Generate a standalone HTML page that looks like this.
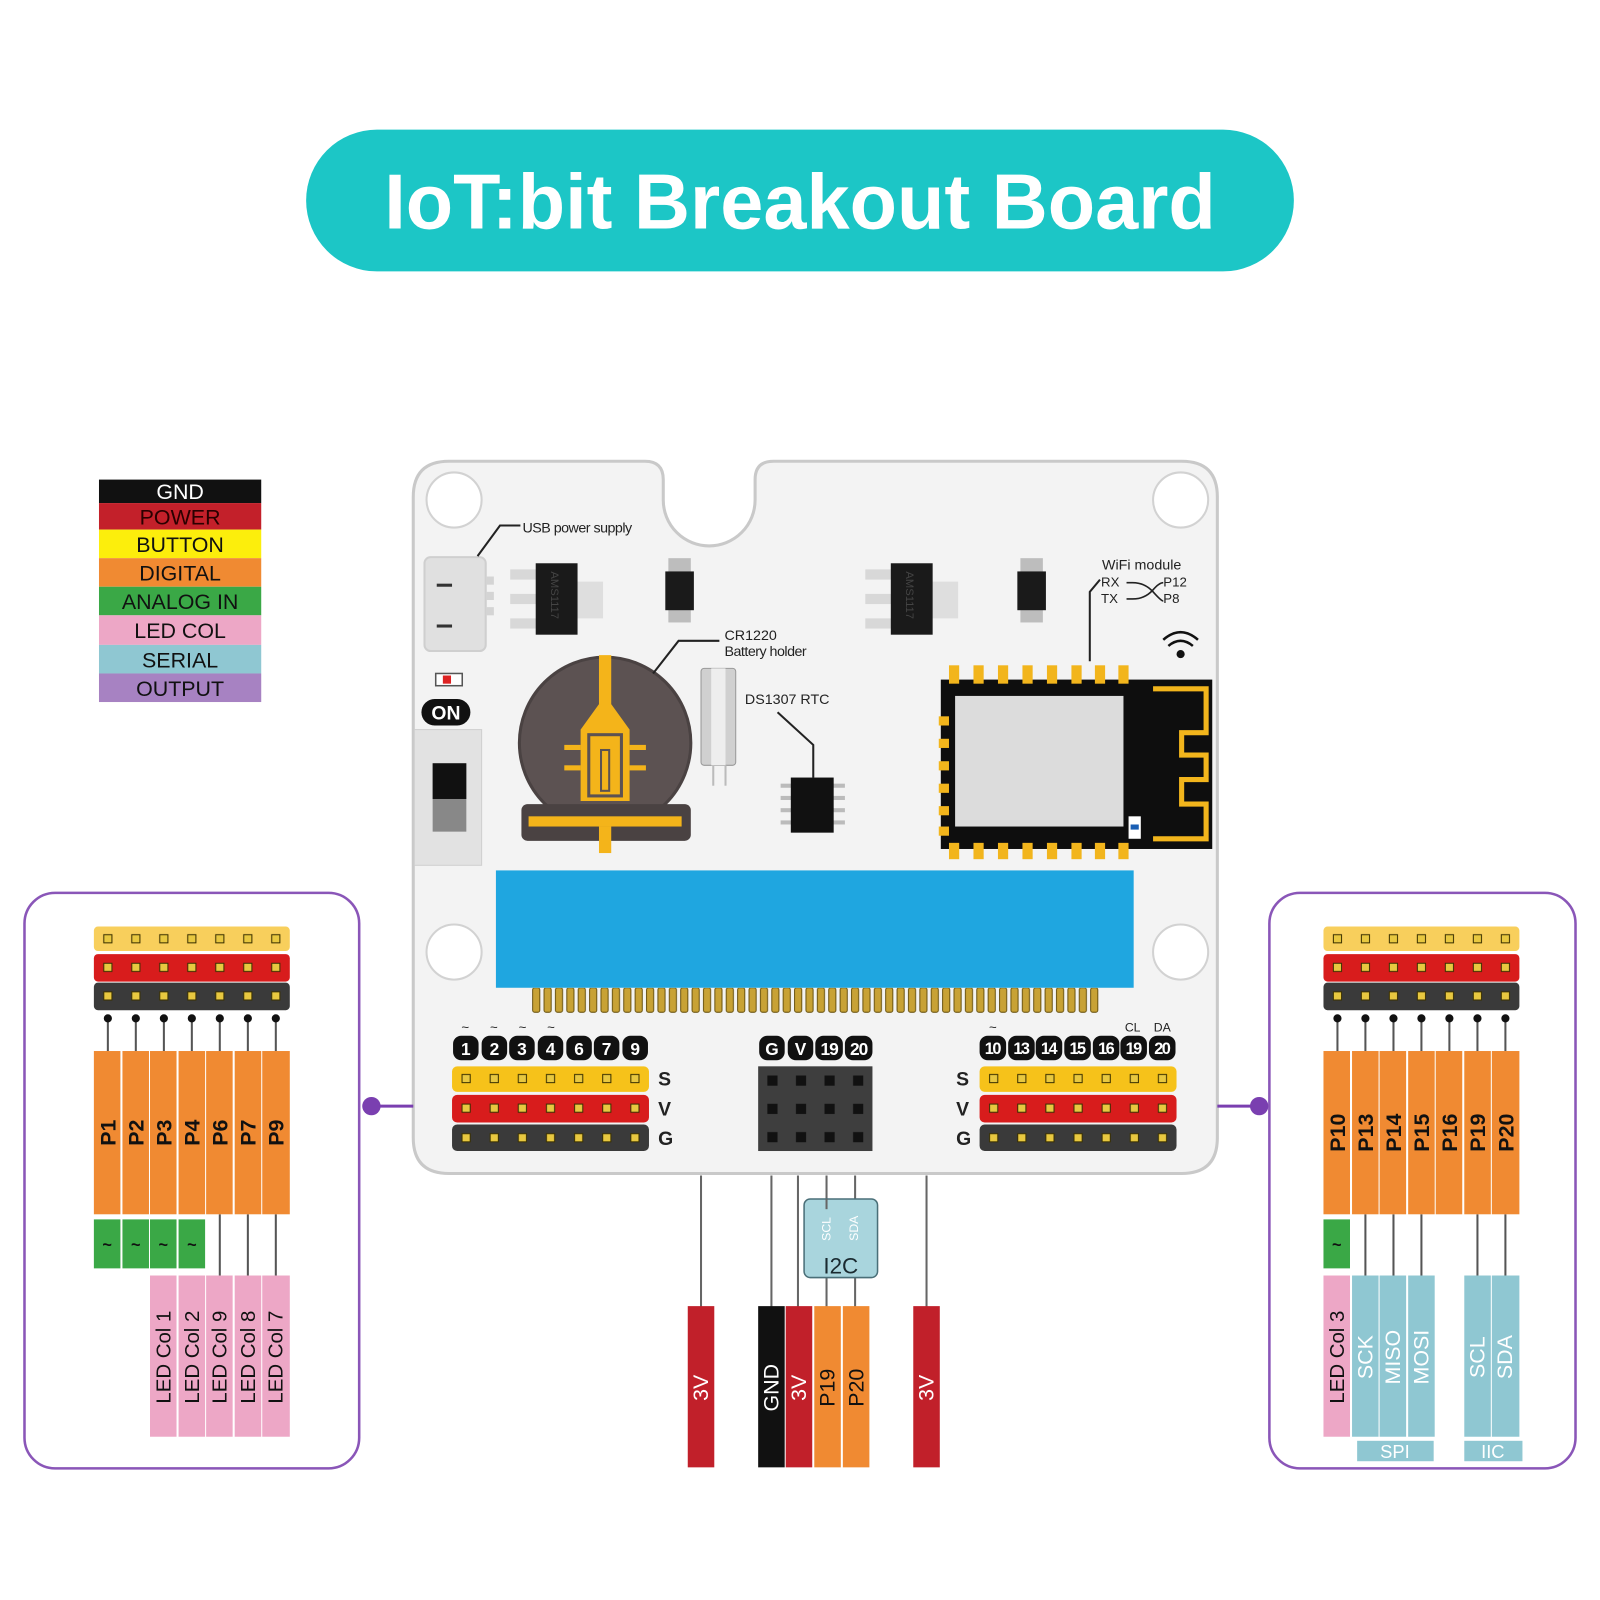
<!DOCTYPE html>
<html><head><meta charset="utf-8"><style>
html,body{margin:0;padding:0;background:#fff}
svg{display:block}
text{font-family:"Liberation Sans",Arial,sans-serif}
</style></head><body>
<svg width="1600" height="1600" viewBox="0 0 1568 1568" xmlns="http://www.w3.org/2000/svg">
<defs>
<pattern id="pbL" patternUnits="userSpaceOnUse" x="443" y="1042.5" width="27.57" height="29"><rect x="9.8" y="10.5" width="8" height="8" fill="#e8c840" stroke="#3a3000" stroke-width="1"/></pattern>
<pattern id="pbR" patternUnits="userSpaceOnUse" x="960" y="1042.5" width="27.57" height="29"><rect x="9.8" y="10.5" width="8" height="8" fill="#e8c840" stroke="#3a3000" stroke-width="1"/></pattern>
<pattern id="ppL" patternUnits="userSpaceOnUse" x="92" y="906" width="27.43" height="28"><rect x="9.7" y="10" width="8" height="8" fill="#e8c840" stroke="#3a3000" stroke-width="1"/></pattern>
<pattern id="ppR" patternUnits="userSpaceOnUse" x="1297" y="906" width="27.43" height="28"><rect x="9.7" y="10" width="8" height="8" fill="#e8c840" stroke="#3a3000" stroke-width="1"/></pattern>
<pattern id="fing" patternUnits="userSpaceOnUse" x="520" y="968" width="11.16" height="30"><rect x="2" y="0" width="7" height="24" rx="2" fill="#c8a235" stroke="#6b5410" stroke-width="1"/></pattern>
<pattern id="grid" patternUnits="userSpaceOnUse" x="743" y="1045" width="28" height="27.7"><rect x="9" y="9" width="10" height="10" fill="#111"/></pattern>
</defs>

<!-- Title -->
<rect x="300" y="127" width="968" height="139" rx="69.5" fill="#1cc6c6"/>
<text x="784" y="224" font-size="76" font-weight="bold" fill="#fff" text-anchor="middle">IoT:bit Breakout Board</text>

<!-- Legend -->
<g font-size="21" text-anchor="middle">
<rect x="97" y="470" width="159" height="23" fill="#111"/><text x="176.5" y="489" fill="#fff">GND</text>
<rect x="97" y="493" width="159" height="26" fill="#c3202a"/><text x="176.5" y="514" fill="#2a0000">POWER</text>
<rect x="97" y="519" width="159" height="28" fill="#fcee0c"/><text x="176.5" y="541" fill="#111">BUTTON</text>
<rect x="97" y="547" width="159" height="28" fill="#f08a32"/><text x="176.5" y="569" fill="#111">DIGITAL</text>
<rect x="97" y="575" width="159" height="28" fill="#3aa846"/><text x="176.5" y="597" fill="#111">ANALOG IN</text>
<rect x="97" y="603" width="159" height="29" fill="#eda7c6"/><text x="176.5" y="625" fill="#111">LED COL</text>
<rect x="97" y="632" width="159" height="28" fill="#8fc7d2"/><text x="176.5" y="654" fill="#111">SERIAL</text>
<rect x="97" y="660" width="159" height="28" fill="#a782c2"/><text x="176.5" y="682" fill="#111">OUTPUT</text>
</g>

<!-- Board -->
<path d="M440 452 L632 452 Q650 452 650 470 L650 490 A45 45 0 0 0 740 490 L740 470 Q740 452 758 452 L1158 452 Q1193 452 1193 487 L1193 1115 Q1193 1150 1158 1150 L440 1150 Q405 1150 405 1115 L405 487 Q405 452 440 452 Z" fill="#f3f3f3" stroke="#c9c9c9" stroke-width="3"/>
<g fill="#fff" stroke="#d2d2d2" stroke-width="2">
<circle cx="445" cy="490" r="27"/><circle cx="1157" cy="490" r="27"/>
<circle cx="445" cy="933" r="27"/><circle cx="1157" cy="933" r="27"/>
</g>

<!-- USB -->
<rect x="416" y="546" width="60" height="92" rx="6" fill="#e0e0e0" stroke="#cfcfcf" stroke-width="2"/>
<rect x="476" y="565" width="8" height="8" fill="#d4d4d4"/><rect x="476" y="580" width="8" height="8" fill="#d4d4d4"/><rect x="476" y="595" width="8" height="8" fill="#d4d4d4"/>
<rect x="428" y="572" width="15" height="3" fill="#333"/><rect x="428" y="612" width="15" height="3" fill="#333"/>
<path d="M468 545 L490 515 L510 515" fill="none" stroke="#222" stroke-width="2"/>
<text x="512" y="522" font-size="14" fill="#222" letter-spacing="-0.5">USB power supply</text>

<!-- regulators & diodes -->
<g>
<rect x="500" y="558" width="26" height="10" fill="#d8d8d8"/><rect x="500" y="582" width="26" height="10" fill="#d8d8d8"/><rect x="500" y="606" width="26" height="10" fill="#d8d8d8"/>
<rect x="565" y="570" width="26" height="36" fill="#dedede"/>
<rect x="525" y="552" width="41" height="70" fill="#1a1a1a"/>
<text transform="translate(540 560) rotate(90)" font-size="11" fill="#444">AMS1117</text>
<rect x="655" y="547" width="22" height="63" fill="#bdbdbd"/><rect x="652" y="560" width="28" height="38" fill="#1a1a1a"/>
<rect x="848" y="558" width="26" height="10" fill="#d8d8d8"/><rect x="848" y="582" width="26" height="10" fill="#d8d8d8"/><rect x="848" y="606" width="26" height="10" fill="#d8d8d8"/>
<rect x="913" y="570" width="26" height="36" fill="#dedede"/>
<rect x="873" y="552" width="41" height="70" fill="#1a1a1a"/>
<text transform="translate(888 560) rotate(90)" font-size="11" fill="#444">AMS1117</text>
<rect x="1000" y="547" width="22" height="63" fill="#bdbdbd"/><rect x="997" y="560" width="28" height="38" fill="#1a1a1a"/>
</g>

<!-- LED, ON, switch -->
<rect x="427" y="660" width="26" height="12" fill="#fff" stroke="#555" stroke-width="1.5"/><rect x="434" y="662" width="8" height="8" fill="#d22"/>
<rect x="413" y="685" width="48" height="26" rx="13" fill="#111"/>
<text x="437" y="705" font-size="19" font-weight="bold" fill="#fff" text-anchor="middle">ON</text>
<rect x="406" y="715" width="66" height="133" fill="#e2e2e2" stroke="#cfcfcf"/>
<rect x="424" y="748" width="33" height="67" fill="#888"/><rect x="424" y="748" width="33" height="35" fill="#111"/>

<!-- battery holder -->
<circle cx="593" cy="728" r="84" fill="#5c5252" stroke="#4a4242" stroke-width="3"/>
<rect x="511" y="788" width="166" height="36" rx="6" fill="#4a4242"/>
<rect x="518" y="800" width="150" height="10" fill="#f4b41a"/>
<rect x="587" y="810" width="12" height="26" fill="#f4b41a"/>
<path d="M587 642 L599 642 L599 690 L617 715 L617 785 L569 785 L569 715 L587 690 Z" fill="#f4b41a"/>
<rect x="577" y="720" width="32" height="60" fill="none" stroke="#5c5252" stroke-width="3"/>
<rect x="589" y="735" width="8" height="40" fill="none" stroke="#5c5252" stroke-width="2"/>
<rect x="553" y="730" width="16" height="5" fill="#f4b41a"/><rect x="553" y="750" width="16" height="5" fill="#f4b41a"/>
<rect x="617" y="730" width="16" height="5" fill="#f4b41a"/><rect x="617" y="750" width="16" height="5" fill="#f4b41a"/>
<path d="M640 660 L665 628 L705 628" fill="none" stroke="#222" stroke-width="2"/>
<text x="710" y="627" font-size="14" fill="#222">CR1220</text>
<text x="710" y="643" font-size="14" fill="#222" letter-spacing="-0.5">Battery holder</text>

<!-- crystal + RTC -->
<rect x="687" y="655" width="34" height="95" rx="3" fill="#d0d0d0" stroke="#999"/>
<rect x="697" y="655" width="14" height="95" fill="#eee"/>
<line x1="699" y1="750" x2="699" y2="770" stroke="#bbb" stroke-width="2"/><line x1="711" y1="750" x2="711" y2="770" stroke="#bbb" stroke-width="2"/>
<text x="730" y="690" font-size="14" fill="#222">DS1307 RTC</text>
<path d="M762 698 L797 730 L797 762" fill="none" stroke="#222" stroke-width="2"/>
<g fill="#bbb"><rect x="765" y="768" width="12" height="4"/><rect x="765" y="780" width="12" height="4"/><rect x="765" y="792" width="12" height="4"/><rect x="765" y="804" width="12" height="4"/>
<rect x="816" y="768" width="12" height="4"/><rect x="816" y="780" width="12" height="4"/><rect x="816" y="792" width="12" height="4"/><rect x="816" y="804" width="12" height="4"/></g>
<rect x="775" y="762" width="42" height="54" fill="#111"/>

<!-- WiFi module -->
<text x="1080" y="558" font-size="14" fill="#222">WiFi module</text>
<text x="1079" y="575" font-size="13" fill="#222">RX</text><text x="1079" y="591" font-size="13" fill="#222">TX</text>
<text x="1140" y="575" font-size="13" fill="#222">P12</text><text x="1140" y="591" font-size="13" fill="#222">P8</text>
<path d="M1104 571 L1110 571 Q1122 571 1130 580 Q1138 589 1140 589 M1104 587 L1110 587 Q1122 587 1130 578 Q1136 571 1140 571" fill="none" stroke="#222" stroke-width="1.6"/>
<path d="M1078 568 L1068 580 L1068 648" fill="none" stroke="#222" stroke-width="2"/>
<g fill="none" stroke="#111" stroke-width="2.5"><path d="M1140 627 Q1157 612 1174 627"/><path d="M1145 633 Q1157 623 1169 633"/></g>
<circle cx="1157" cy="641" r="4" fill="#111"/>
<rect x="922" y="666" width="266" height="166" fill="#0e0e0e"/>
<g fill="#f2b51c">
<rect x="930" y="652" width="10" height="18"/><rect x="954" y="652" width="10" height="18"/><rect x="978" y="652" width="10" height="18"/><rect x="1002" y="652" width="10" height="18"/><rect x="1026" y="652" width="10" height="18"/><rect x="1050" y="652" width="10" height="18"/><rect x="1073" y="652" width="10" height="18"/><rect x="1096" y="652" width="10" height="18"/>
<rect x="930" y="826" width="10" height="16"/><rect x="954" y="826" width="10" height="16"/><rect x="978" y="826" width="10" height="16"/><rect x="1002" y="826" width="10" height="16"/><rect x="1026" y="826" width="10" height="16"/><rect x="1050" y="826" width="10" height="16"/><rect x="1073" y="826" width="10" height="16"/><rect x="1096" y="826" width="10" height="16"/>
<rect x="920" y="702" width="10" height="9"/><rect x="920" y="724" width="10" height="9"/><rect x="920" y="746" width="10" height="9"/><rect x="920" y="768" width="10" height="9"/><rect x="920" y="790" width="10" height="9"/><rect x="920" y="810" width="10" height="9"/>
</g>
<rect x="936" y="682" width="165" height="128" fill="#dcdcdc"/>
<rect x="1106" y="800" width="12" height="22" fill="#fff"/><rect x="1108" y="808" width="8" height="5" fill="#1a5fb4"/>
<path d="M1130 675 L1182 675 L1182 718 L1158 718 L1158 740 L1182 740 L1182 764 L1158 764 L1158 788 L1182 788 L1182 822 L1130 822" fill="none" stroke="#f2b51c" stroke-width="5"/>

<!-- LED display blue -->
<rect x="486" y="853" width="625" height="115" fill="#1fa6e0"/>
<rect x="520" y="968" width="558" height="26" fill="url(#fing)"/>

<!-- Board header left -->
<g font-weight="bold" font-size="17" fill="#fff" text-anchor="middle">
<rect x="444" y="1015" width="25" height="24" rx="8" fill="#111"/><text x="456.5" y="1034">1</text>
<rect x="472" y="1015" width="25" height="24" rx="8" fill="#111"/><text x="484.5" y="1034">2</text>
<rect x="499" y="1015" width="25" height="24" rx="8" fill="#111"/><text x="511.5" y="1034">3</text>
<rect x="527" y="1015" width="25" height="24" rx="8" fill="#111"/><text x="539.5" y="1034">4</text>
<rect x="555" y="1015" width="25" height="24" rx="8" fill="#111"/><text x="567.5" y="1034">6</text>
<rect x="582" y="1015" width="25" height="24" rx="8" fill="#111"/><text x="594.5" y="1034">7</text>
<rect x="610" y="1015" width="25" height="24" rx="8" fill="#111"/><text x="622.5" y="1034">9</text>
</g>
<g font-size="13" fill="#222" text-anchor="middle"><text x="456" y="1011">~</text><text x="484" y="1011">~</text><text x="512" y="1011">~</text><text x="540" y="1011">~</text></g>
<rect x="443" y="1045" width="193" height="25" rx="5" fill="#f6c21a"/>
<rect x="443" y="1073" width="193" height="27" rx="5" fill="#d81c1c"/>
<rect x="443" y="1102" width="193" height="26" rx="5" fill="#3a3a3a"/>
<rect x="443" y="1045" width="193" height="83" fill="url(#pbL)"/>
<g font-size="19" font-weight="bold" fill="#222"><text x="645" y="1064">S</text><text x="645" y="1093">V</text><text x="645" y="1122">G</text></g>

<!-- Board header center -->
<g font-weight="bold" font-size="17" fill="#fff" text-anchor="middle">
<rect x="744" y="1015" width="25" height="24" rx="8" fill="#111"/><text x="756.5" y="1034">G</text>
<rect x="772" y="1015" width="25" height="24" rx="8" fill="#111"/><text x="784.5" y="1034">V</text>
<rect x="799" y="1015" width="27" height="24" rx="8" fill="#111"/><text x="812.5" y="1034" letter-spacing="-1">19</text>
<rect x="828" y="1015" width="27" height="24" rx="8" fill="#111"/><text x="841.5" y="1034" letter-spacing="-1">20</text>
</g>
<rect x="743" y="1045" width="112" height="83" fill="#3e3e3e"/>
<rect x="743" y="1045" width="112" height="83" fill="url(#grid)"/>

<!-- Board header right -->
<g font-weight="bold" font-size="16" fill="#fff" text-anchor="middle" letter-spacing="-1.5">
<rect x="960" y="1015" width="26" height="24" rx="8" fill="#111"/><text x="972.5" y="1033">10</text>
<rect x="988" y="1015" width="26" height="24" rx="8" fill="#111"/><text x="1000.5" y="1033">13</text>
<rect x="1015" y="1015" width="26" height="24" rx="8" fill="#111"/><text x="1027.5" y="1033">14</text>
<rect x="1043" y="1015" width="26" height="24" rx="8" fill="#111"/><text x="1055.5" y="1033">15</text>
<rect x="1071" y="1015" width="26" height="24" rx="8" fill="#111"/><text x="1083.5" y="1033">16</text>
<rect x="1098" y="1015" width="26" height="24" rx="8" fill="#111"/><text x="1110.5" y="1033">19</text>
<rect x="1126" y="1015" width="26" height="24" rx="8" fill="#111"/><text x="1138.5" y="1033">20</text>
</g>
<text x="973" y="1011" font-size="13" fill="#222" text-anchor="middle">~</text>
<text x="1110" y="1011" font-size="12" fill="#222" text-anchor="middle">CL</text>
<text x="1139" y="1011" font-size="12" fill="#222" text-anchor="middle">DA</text>
<rect x="960" y="1045" width="193" height="25" rx="5" fill="#f6c21a"/>
<rect x="960" y="1073" width="193" height="27" rx="5" fill="#d81c1c"/>
<rect x="960" y="1102" width="193" height="26" rx="5" fill="#3a3a3a"/>
<rect x="960" y="1045" width="193" height="83" fill="url(#pbR)"/>
<g font-size="19" font-weight="bold" fill="#222"><text x="937" y="1064">S</text><text x="937" y="1093">V</text><text x="937" y="1122">G</text></g>

<!-- Bottom connectors -->
<g stroke="#666" stroke-width="2">
<line x1="687" y1="1152" x2="687" y2="1282"/>
<line x1="756" y1="1152" x2="756" y2="1282"/>
<line x1="782" y1="1152" x2="782" y2="1282"/>
<line x1="810" y1="1152" x2="810" y2="1282"/>
<line x1="838" y1="1152" x2="838" y2="1282"/>
<line x1="908" y1="1152" x2="908" y2="1282"/>
</g>
<rect x="788" y="1175" width="72" height="77" rx="6" fill="#a9d5dd" stroke="#4a6f78" stroke-width="1.5"/>
<line x1="810" y1="1175" x2="810" y2="1185" stroke="#666" stroke-width="2"/>
<text transform="translate(814 1216) rotate(-90)" font-size="12" fill="#fff">SCL</text>
<text transform="translate(841 1216) rotate(-90)" font-size="12" fill="#fff">SDA</text>
<text x="824" y="1248" font-size="22" fill="#1a2a30" text-anchor="middle">I2C</text>
<g>
<rect x="674" y="1280" width="26" height="158" fill="#c1202a"/>
<rect x="743" y="1280" width="26" height="158" fill="#111"/>
<rect x="770" y="1280" width="26" height="158" fill="#c1202a"/>
<rect x="798" y="1280" width="26" height="158" fill="#f08a32"/>
<rect x="826" y="1280" width="26" height="158" fill="#f08a32"/>
<rect x="895" y="1280" width="26" height="158" fill="#c1202a"/>
</g>
<g font-size="21" text-anchor="middle">
<text transform="translate(694 1360) rotate(-90)" fill="#fff">3V</text>
<text transform="translate(763 1360) rotate(-90)" fill="#fff">GND</text>
<text transform="translate(790 1360) rotate(-90)" fill="#fff">3V</text>
<text transform="translate(818 1360) rotate(-90)" fill="#111">P19</text>
<text transform="translate(846 1360) rotate(-90)" fill="#111">P20</text>
<text transform="translate(915 1360) rotate(-90)" fill="#fff">3V</text>
</g>

<!-- Left panel -->
<rect x="24" y="875" width="328" height="564" rx="30" fill="none" stroke="#8a56b8" stroke-width="2.5"/>
<line x1="364" y1="1084" x2="405" y2="1084" stroke="#7a3fb0" stroke-width="3"/>
<circle cx="364" cy="1084" r="9" fill="#7a3fb0"/>
<rect x="92" y="908" width="192" height="24" rx="4" fill="#f8cf5c"/>
<rect x="92" y="935" width="192" height="27" rx="4" fill="#d81c1c"/>
<rect x="92" y="963" width="192" height="27" rx="4" fill="#3a3a3a"/>
<rect x="92" y="908" width="192" height="82" fill="url(#ppL)"/>
<g stroke="#555" stroke-width="2">
<line x1="105.7" y1="998" x2="105.7" y2="1030"/><line x1="133.1" y1="998" x2="133.1" y2="1030"/><line x1="160.6" y1="998" x2="160.6" y2="1030"/><line x1="188" y1="998" x2="188" y2="1030"/><line x1="215.4" y1="998" x2="215.4" y2="1030"/><line x1="242.9" y1="998" x2="242.9" y2="1030"/><line x1="270.3" y1="998" x2="270.3" y2="1030"/>
<line x1="215.4" y1="1190" x2="215.4" y2="1250"/><line x1="242.9" y1="1190" x2="242.9" y2="1250"/><line x1="270.3" y1="1190" x2="270.3" y2="1250"/>
</g>
<g fill="#111"><circle cx="105.7" cy="998" r="4"/><circle cx="133.1" cy="998" r="4"/><circle cx="160.6" cy="998" r="4"/><circle cx="188" cy="998" r="4"/><circle cx="215.4" cy="998" r="4"/><circle cx="242.9" cy="998" r="4"/><circle cx="270.3" cy="998" r="4"/></g>
<g fill="#f08a32">
<rect x="92" y="1030" width="26" height="160"/><rect x="120" y="1030" width="26" height="160"/><rect x="147" y="1030" width="26" height="160"/><rect x="175" y="1030" width="26" height="160"/><rect x="202" y="1030" width="26" height="160"/><rect x="230" y="1030" width="26" height="160"/><rect x="257" y="1030" width="27" height="160"/>
</g>
<g font-size="21" font-weight="bold" fill="#111" text-anchor="middle">
<text transform="translate(113 1110) rotate(-90)">P1</text><text transform="translate(140.5 1110) rotate(-90)">P2</text><text transform="translate(168 1110) rotate(-90)">P3</text><text transform="translate(195.5 1110) rotate(-90)">P4</text><text transform="translate(223 1110) rotate(-90)">P6</text><text transform="translate(250.5 1110) rotate(-90)">P7</text><text transform="translate(278 1110) rotate(-90)">P9</text>
</g>
<g fill="#3aa846"><rect x="92" y="1195" width="26" height="48"/><rect x="120" y="1195" width="26" height="48"/><rect x="147" y="1195" width="26" height="48"/><rect x="175" y="1195" width="26" height="48"/></g>
<g font-size="16" font-weight="bold" fill="#111" text-anchor="middle"><text x="105" y="1225">~</text><text x="133" y="1225">~</text><text x="160" y="1225">~</text><text x="188" y="1225">~</text></g>
<g fill="#eda7c6"><rect x="147" y="1250" width="26" height="158"/><rect x="175" y="1250" width="26" height="158"/><rect x="202" y="1250" width="26" height="158"/><rect x="230" y="1250" width="26" height="158"/><rect x="257" y="1250" width="27" height="158"/></g>
<g font-size="20" fill="#111" text-anchor="middle">
<text transform="translate(167 1330) rotate(-90)">LED Col 1</text><text transform="translate(195 1330) rotate(-90)">LED Col 2</text><text transform="translate(222 1330) rotate(-90)">LED Col 9</text><text transform="translate(250 1330) rotate(-90)">LED Col 8</text><text transform="translate(277 1330) rotate(-90)">LED Col 7</text>
</g>

<!-- Right panel -->
<rect x="1244" y="875" width="300" height="564" rx="30" fill="none" stroke="#8a56b8" stroke-width="2.5"/>
<line x1="1193" y1="1084" x2="1234" y2="1084" stroke="#7a3fb0" stroke-width="3"/>
<circle cx="1234" cy="1084" r="9" fill="#7a3fb0"/>
<rect x="1297" y="908" width="192" height="24" rx="4" fill="#f8cf5c"/>
<rect x="1297" y="935" width="192" height="27" rx="4" fill="#d81c1c"/>
<rect x="1297" y="963" width="192" height="27" rx="4" fill="#3a3a3a"/>
<rect x="1297" y="908" width="192" height="82" fill="url(#ppR)"/>
<g stroke="#555" stroke-width="2">
<line x1="1310.7" y1="998" x2="1310.7" y2="1030"/><line x1="1338.1" y1="998" x2="1338.1" y2="1030"/><line x1="1365.6" y1="998" x2="1365.6" y2="1030"/><line x1="1393" y1="998" x2="1393" y2="1030"/><line x1="1420.4" y1="998" x2="1420.4" y2="1030"/><line x1="1447.9" y1="998" x2="1447.9" y2="1030"/><line x1="1475.3" y1="998" x2="1475.3" y2="1030"/>
<line x1="1338.1" y1="1190" x2="1338.1" y2="1250"/><line x1="1365.6" y1="1190" x2="1365.6" y2="1250"/><line x1="1393" y1="1190" x2="1393" y2="1250"/><line x1="1447.9" y1="1190" x2="1447.9" y2="1250"/><line x1="1475.3" y1="1190" x2="1475.3" y2="1250"/>
</g>
<g fill="#111"><circle cx="1310.7" cy="998" r="4"/><circle cx="1338.1" cy="998" r="4"/><circle cx="1365.6" cy="998" r="4"/><circle cx="1393" cy="998" r="4"/><circle cx="1420.4" cy="998" r="4"/><circle cx="1447.9" cy="998" r="4"/><circle cx="1475.3" cy="998" r="4"/></g>
<g fill="#f08a32">
<rect x="1297" y="1030" width="26" height="160"/><rect x="1325" y="1030" width="26" height="160"/><rect x="1352" y="1030" width="26" height="160"/><rect x="1380" y="1030" width="26" height="160"/><rect x="1407" y="1030" width="26" height="160"/><rect x="1435" y="1030" width="26" height="160"/><rect x="1462" y="1030" width="27" height="160"/>
</g>
<g font-size="21" font-weight="bold" fill="#111" text-anchor="middle">
<text transform="translate(1318 1110) rotate(-90)">P10</text><text transform="translate(1345.5 1110) rotate(-90)">P13</text><text transform="translate(1373 1110) rotate(-90)">P14</text><text transform="translate(1400.5 1110) rotate(-90)">P15</text><text transform="translate(1428 1110) rotate(-90)">P16</text><text transform="translate(1455.5 1110) rotate(-90)">P19</text><text transform="translate(1483 1110) rotate(-90)">P20</text>
</g>
<rect x="1297" y="1195" width="26" height="48" fill="#3aa846"/>
<text x="1310" y="1225" font-size="16" font-weight="bold" fill="#111" text-anchor="middle">~</text>
<rect x="1297" y="1250" width="26" height="158" fill="#eda7c6"/>
<g fill="#8fc7d2"><rect x="1325" y="1250" width="26" height="158"/><rect x="1352" y="1250" width="26" height="158"/><rect x="1380" y="1250" width="26" height="158"/><rect x="1435" y="1250" width="26" height="158"/><rect x="1462" y="1250" width="27" height="158"/></g>
<text transform="translate(1317 1330) rotate(-90)" font-size="20" fill="#111" text-anchor="middle">LED Col 3</text>
<g font-size="21" fill="#fff" text-anchor="middle">
<text transform="translate(1345 1330) rotate(-90)">SCK</text><text transform="translate(1372 1330) rotate(-90)">MISO</text><text transform="translate(1400 1330) rotate(-90)">MOSI</text><text transform="translate(1455 1330) rotate(-90)">SCL</text><text transform="translate(1482 1330) rotate(-90)">SDA</text>
</g>
<rect x="1330" y="1412" width="75" height="20" fill="#8fc7d2"/><text x="1367" y="1429" font-size="18" fill="#fff" text-anchor="middle">SPI</text>
<rect x="1435" y="1412" width="57" height="20" fill="#8fc7d2"/><text x="1463" y="1429" font-size="18" fill="#fff" text-anchor="middle">IIC</text>
</svg>
</body></html>
